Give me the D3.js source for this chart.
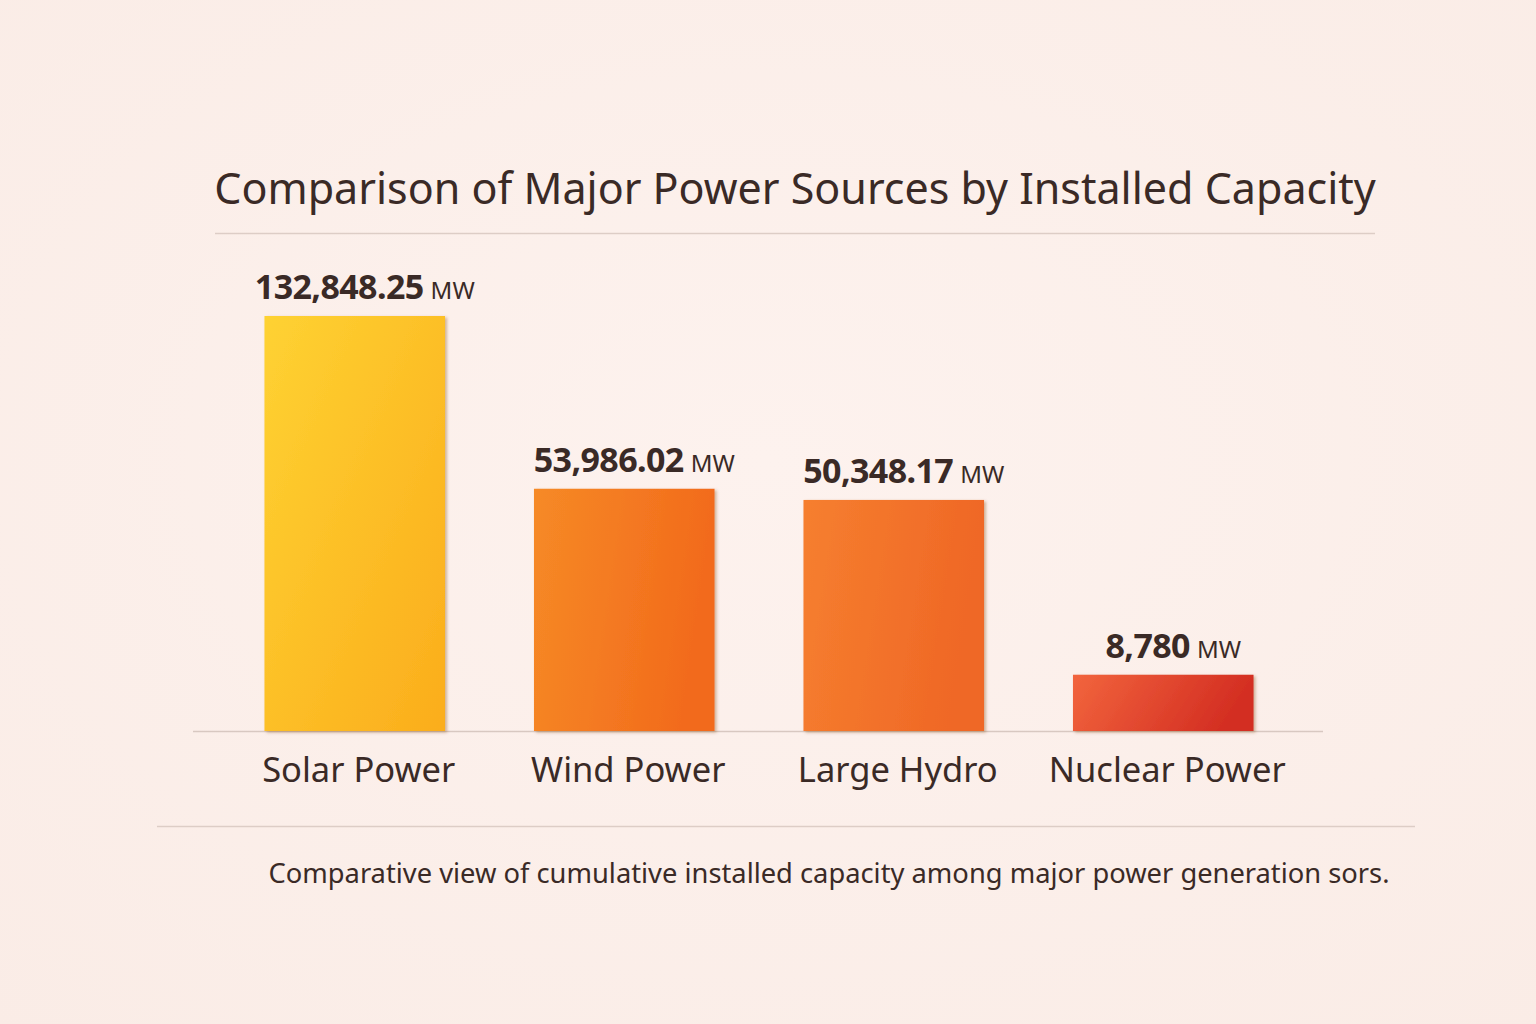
<!DOCTYPE html>
<html>
<head>
<meta charset="utf-8">
<script src="https://cdn.jsdelivr.net/npm/d3@7"></script>
<style>
  html, body { margin: 0; padding: 0; background: #fcefea; }
  svg { display: block; font-family: "Noto Sans", "Open Sans", sans-serif; }
</style>
</head>
<body>
<div id="chart"></div>
<script>
const categories = ["Solar Power", "Wind Power", "Large Hydro", "Nuclear Power"];
const values     = [132848.25, 53986.02, 50348.17, 8780];
const valueText  = ["132,848.25", "53,986.02", "50,348.17", "8,780"];
const unit       = "MW";
const gradStops  = [
    ["#fed232", "#fbad1c"],
    ["#f68a26", "#f26a1c"],
    ["#f67f2f", "#ef6726"],
    ["#f2653d", "#d32d22"]
];
const title    = "Comparison of Major Power Sources by Installed Capacity";
const footnote = "Comparative view of cumulative installed capacity among major power generation sors.";

const W = 1536, H = 1024;
const svg = d3.select("#chart").append("svg").attr("width", W).attr("height", H);

// background with soft vignette
const defs = svg.append("defs");
const bg = defs.append("radialGradient").attr("id", "bg").attr("cx", "50%").attr("cy", "45%").attr("r", "75%");
bg.append("stop").attr("offset", "0%").attr("stop-color", "#fdf2ee");
bg.append("stop").attr("offset", "100%").attr("stop-color", "#faece6");
svg.append("rect").attr("width", W).attr("height", H).attr("fill", "url(#bg)");

gradStops.forEach((s, i) => {
    const lg = defs.append("linearGradient").attr("id", "g" + i)
        .attr("x1", "0%").attr("y1", "0%").attr("x2", "100%").attr("y2", i === 0 ? "100%" : "20%");
    lg.append("stop").attr("offset", "0%").attr("stop-color", s[0]);
    lg.append("stop").attr("offset", "100%").attr("stop-color", s[1]);
});

const shadow = defs.append("filter").attr("id", "shadow").attr("x", "-10%").attr("y", "-10%").attr("width", "130%").attr("height", "130%");
shadow.append("feDropShadow").attr("dx", 2).attr("dy", 1.5).attr("stdDeviation", 1.5)
    .attr("flood-color", "#7a3a10").attr("flood-opacity", 0.35);

// ── Title ────────────────────────────────────────────────
svg.append("text").attr("x", 795).attr("y", 204)
    .attr("text-anchor", "middle").attr("fill", "#3a2a26")
    .attr("font-size", 43).text(title);
svg.append("line").attr("x1", 215).attr("x2", 1375).attr("y1", 233.5).attr("y2", 233.5)
    .attr("stroke", "#ddcdc6").attr("stroke-width", 1.5);

// ── Scales ───────────────────────────────────────────────
const x = d3.scaleBand().domain(categories).range([220, 1298]).paddingInner(0.33).paddingOuter(0.165);
const y = d3.scaleSymlog().constant(40000).domain([0, d3.max(values)]).range([731, 316]);

const data = categories.map((c, i) => ({ c, v: values[i], t: valueText[i], i }));

// baseline
svg.append("line").attr("x1", 193).attr("x2", 1323).attr("y1", 731.5).attr("y2", 731.5)
    .attr("stroke", "#d8c8c1").attr("stroke-width", 1.5);

// bars
svg.append("g").selectAll("rect").data(data).enter().append("rect")
    .attr("x", d => x(d.c))
    .attr("y", d => y(d.v))
    .attr("width", x.bandwidth())
    .attr("height", d => y(0) - y(d.v))
    .attr("fill", d => `url(#g${d.i})`)
    .attr("filter", "url(#shadow)");

// value labels
const vl = svg.append("g").selectAll("text").data(data).enter().append("text")
    .attr("x", d => x(d.c) + x.bandwidth() / 2 + 10)
    .attr("y", d => y(d.v) - 17)
    .attr("text-anchor", "middle").attr("fill", "#3a2a26");
vl.append("tspan").attr("font-size", 34).attr("font-weight", 700).attr("letter-spacing", -0.6).text(d => d.t);
vl.append("tspan").attr("font-size", 24).attr("dx", 7).text(unit);

// category labels
svg.append("g").selectAll("text").data(data).enter().append("text")
    .attr("x", d => x(d.c) + x.bandwidth() / 2 + 4)
    .attr("y", 782)
    .attr("text-anchor", "middle").attr("fill", "#3a2a26")
    .attr("font-size", 34.5).text(d => d.c);

// ── Footer ───────────────────────────────────────────────
svg.append("line").attr("x1", 157).attr("x2", 1415).attr("y1", 826.5).attr("y2", 826.5)
    .attr("stroke", "#ddcdc6").attr("stroke-width", 1.5);
svg.append("text").attr("x", 829).attr("y", 883)
    .attr("text-anchor", "middle").attr("fill", "#3a2a26")
    .attr("font-size", 27.3).text(footnote);
</script>
</body>
</html>
